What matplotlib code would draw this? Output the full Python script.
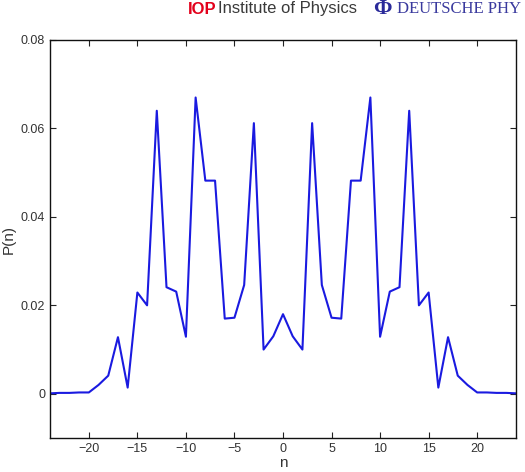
import matplotlib
matplotlib.use("Agg")
import matplotlib.pyplot as plt
import numpy as np

# Data (left half; the curve is symmetric about n = 0)
n_left = list(range(-24, 1))
p_left = [0.0001, 0.0002, 0.0002, 0.0003, 0.0003, 0.0020, 0.0041, 0.0128, 0.0014,
          0.0229, 0.0200, 0.0640, 0.0241, 0.0231, 0.0129, 0.0670, 0.0482, 0.0482,
          0.0170, 0.0172, 0.0246, 0.0612, 0.0100, 0.0130, 0.0180]
n_vals = n_left + [-v for v in n_left[-2::-1]]
p_vals = p_left + p_left[-2::-1]

x_ticks = [-20, -15, -10, -5, 0, 5, 10, 15, 20]
y_ticks = [0, 0.02, 0.04, 0.06, 0.08]
y_tick_labels = ["0", "0.02", "0.04", "0.06", "0.08"]

plt.rcParams['font.family'] = ['Liberation Sans', 'DejaVu Sans']

fig = plt.figure(figsize=(5.25, 4.72), dpi=100)
ax = fig.add_axes([50/525, 1-438/472, (516-50)/525, (438-40)/472])

ax.plot(n_vals, p_vals, color='#1a1ae0', lw=1.5)

ax.set_xlim(-24, 24)
ax.set_ylim(-0.01, 0.08)
ax.set_xticks(x_ticks)
ax.set_xticklabels([str(t).replace('-', '\u2212') for t in x_ticks])
ax.set_yticks(y_ticks)
ax.set_yticklabels(y_tick_labels)
ax.tick_params(direction='in', top=True, right=True, labelsize=9, length=4, width=0.8, colors='#222222', labelcolor='#333333')
for s in ax.spines.values():
    s.set_linewidth(1.0)
    s.set_color('#111111')
ax.set_xlabel('n', fontsize=11, color='#333333', labelpad=1)
ax.set_ylabel('P(n)', fontsize=11, color='#333333')
ax.yaxis.set_label_coords(-34/466, 0.5)

# Header logos as text
fig.text(188/525, 1-9/472, 'IOP', color='#e3001b', fontsize=12, fontweight='bold', va='center', ha='left',
         family=['Liberation Sans'])
fig.text(218/525, 1-9/472, 'Institute of Physics', color='#3a3a3a', fontsize=12, va='center', ha='left',
         family=['Liberation Sans'])
fig.text(373/525, 1-9/472, '\u03a6', color='#2a2a9a', fontsize=16, fontweight='bold', va='center', ha='left',
         family=['Liberation Serif', 'DejaVu Serif'])
fig.text(397/525, 1-9/472, 'DEUTSCHE PHY', color='#3a3a9e', fontsize=12, va='center', ha='left',
         family=['Liberation Serif', 'DejaVu Serif'])

fig.savefig('out.png', dpi=100)
